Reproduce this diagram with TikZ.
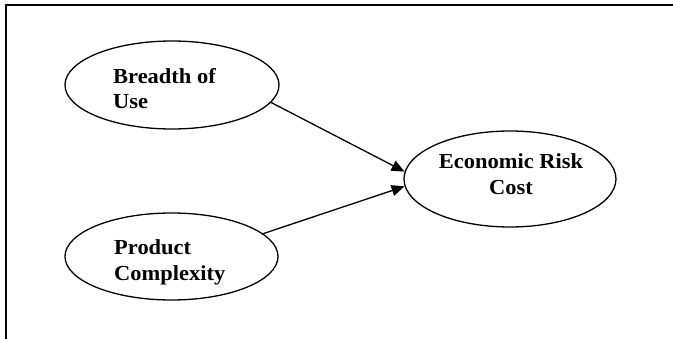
\documentclass[tikz,border=0pt]{standalone}
\usepackage{graphicx}
\usepackage{fontspec}
\setmainfont{Liberation Serif}
\usetikzlibrary{shapes.geometric,arrows.meta}

\tikzset{
  construct/.style={draw=black, line width=1.3pt, ellipse, inner sep=0pt},
  label/.style={inner sep=0pt, font=\bfseries\fontsize{21.4}{25}\selectfont},
  link/.style={draw=black, line width=1.3pt, -{Triangle[length=13pt,width=11pt]}},
  frame/.style={draw=black, line width=2pt}
}
\newcommand{\widetext}[1]{\scalebox{1.05}[1]{#1}}

\begin{document}
\begin{tikzpicture}[x=1pt, y=-1pt]
  \useasboundingbox (0,0) rectangle (673,339);

  % open frame: left and top edges only
  \coordinate (fbl) at (5.5,339);
  \coordinate (ftl) at (5.5,5);
  \coordinate (ftr) at (673,5);
  \draw[frame] (fbl) -- (ftl) -- (ftr);

  % constructs
  \node[construct, minimum width=214pt, minimum height=88pt] (bu) at (172,85) {};
  \node[construct, minimum width=213pt, minimum height=87pt] (pc) at (171.5,256.5) {};
  \node[construct, minimum width=212pt, minimum height=96pt] (erc) at (510,179) {};

  % labels
  \node[label, anchor=base west] (bu1) at (113,83.5) {\widetext{Breadth of}};
  \node[label, anchor=base west] (bu2) at (113,108.5) {\widetext{Use}};
  \node[label, anchor=base west] (pc1) at (114,255) {\widetext{Product}};
  \begin{scope}
    \clip (0,0) rectangle (673,286);
    \node[label, anchor=base west] (pc2) at (114,281) {\widetext{Complexity}};
  \end{scope}
  \node[label, anchor=base] (erc1) at (511,169) {\widetext{Economic Risk}};
  \node[label, anchor=base] (erc2) at (511,195) {\widetext{Cost}};

  % paths
  \draw[link] (bu.-10) -- (erc.176);
  \draw[link] (pc.14) -- (erc.184);
\end{tikzpicture}
\end{document}
